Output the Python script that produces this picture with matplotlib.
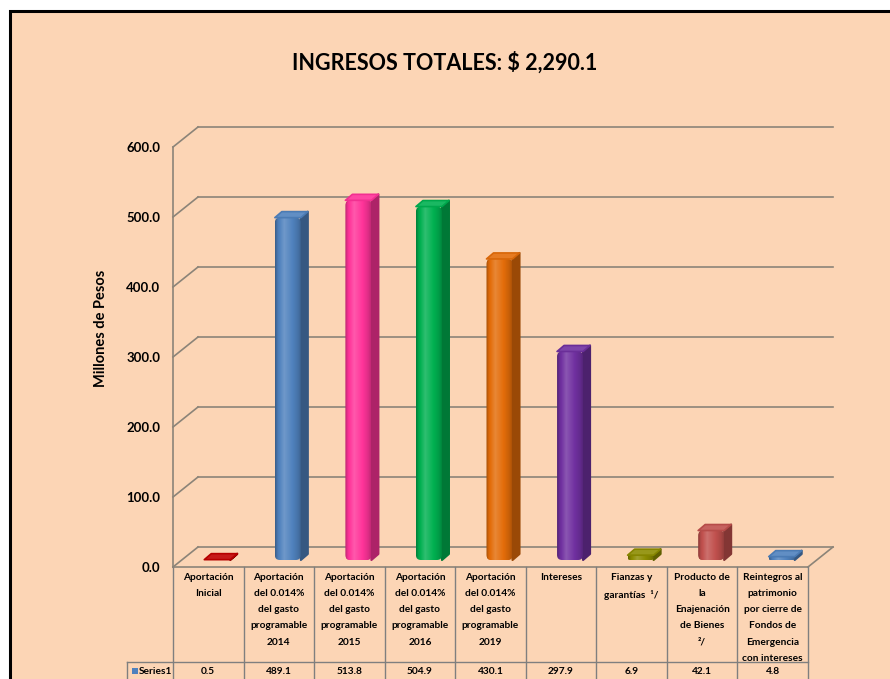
import matplotlib
matplotlib.use("Agg")
import matplotlib.pyplot as plt
import matplotlib.colors as mcolors
from matplotlib.patches import Rectangle, Polygon, FancyBboxPatch
import numpy as np

# ---------------- data ----------------
categories = [
    "Aportación\nInicial",
    "Aportación\ndel 0.014%\ndel gasto\nprogramable\n2014",
    "Aportación\ndel 0.014%\ndel gasto\nprogramable\n2015",
    "Aportación\ndel 0.014%\ndel gasto\nprogramable\n2016",
    "Aportación\ndel 0.014%\ndel gasto\nprogramable\n2019",
    "Intereses",
    "Fianzas y\ngarantías  ¹/",
    "Producto de\nla\nEnajenación\nde Bienes\n²/",
    "Reintegros al\npatrimonio\npor cierre de\nFondos de\nEmergencia\ncon intereses",
]
values = [0.5, 489.1, 513.8, 504.9, 430.1, 297.9, 6.9, 42.1, 4.8]
value_labels = ["0.5", "489.1", "513.8", "504.9", "430.1", "297.9", "6.9", "42.1", "4.8"]
bar_colors = ["#C00000", "#4F81BD", "#FF3399", "#00B050", "#E36C09",
              "#7030A0", "#8C8C00", "#C0504D", "#4F81BD"]
series_name = "Series1"
title = "INGRESOS TOTALES: $ 2,290.1"
ylabel = "Millones de Pesos"
yticks = [0, 100, 200, 300, 400, 500, 600]

# ---------------- style ----------------
BG = "#FCD5B5"
GRID = "#8C8478"
FONT = "Lato"
W, H = 890, 679
fig = plt.figure(figsize=(W / 100, H / 100), dpi=100)
fig.patch.set_facecolor("white")

# frame (peach panel with black border)
frame = Rectangle((10 / W, -0.05), 1.0, 1 - 11 / H + 0.05,
                  transform=fig.transFigure, facecolor=BG,
                  edgecolor="black", linewidth=2.2, zorder=-5)
fig.patches.append(frame)

# axes = front plane of the 3D plot
x0, x1, yb, yt = 173, 808, 567, 147
ax = fig.add_axes([x0 / W, 1 - yb / H, (x1 - x0) / W, (yb - yt) / H])
ax.set_zorder(1)
ax.set_facecolor("none")
n = len(values)
ax.set_xlim(0, n)
ax.set_ylim(0, 600)
for s in ["top", "right", "bottom"]:
    ax.spines[s].set_visible(False)
ax.spines["left"].set_color(GRID)
ax.spines["left"].set_linewidth(1.2)
ax.set_xticks([])
ax.set_yticks(yticks)
ax.set_yticklabels([f"{v:.1f}" for v in yticks], fontfamily=FONT,
                   fontweight="bold", fontsize=9.5)
ax.tick_params(axis="y", length=0, pad=9)

# pixel -> data conversion
px_x = n / (x1 - x0)
px_y = 600 / (yb - yt)
DX, DY = 25 * px_x, 20 * px_y  # depth of the 3D box

# back wall gridlines and left diagonals
for v in yticks:
    ax.plot([DX, n + DX], [v + DY, v + DY], color=GRID, lw=1.2, clip_on=False, zorder=1)
    ax.plot([0, DX], [v, v + DY], color=GRID, lw=1.2, clip_on=False, zorder=1)
# floor right edge and front edge
ax.plot([n, n + DX], [0, DY], color=GRID, lw=1.2, clip_on=False, zorder=1)
ax.plot([0, n], [0, 0], color=GRID, lw=1.2, clip_on=False, zorder=1)


def shade(c, k):
    r = np.array(mcolors.to_rgb(c))
    if k >= 1:
        return tuple(np.clip(r + (1 - r) * (k - 1), 0, 1))
    return tuple(r * k)


# bars (bevelled boxes) at mid depth
FW = 26 * px_x          # front face width
SX, SY = 7 * px_x, 6 * px_y  # bar depth
NS = 26
prof = np.interp(np.linspace(0, 1, NS), [0, 0.1, 0.35, 0.65, 0.9, 1.0],
                 [0.75, 0.95, 1.18, 1.02, 0.88, 0.78])
RND = 5 * px_x
asp = px_y / px_x
for i, (v, c) in enumerate(zip(values, bar_colors)):
    cx = i + 0.5 + DX / 2
    L = cx - (FW + SX) / 2
    B = DY / 2 - SY / 2
    T = B + v
    # side face
    ax.add_patch(Polygon([[L + FW, B], [L + FW + SX, B + SY], [L + FW + SX, T + SY], [L + FW, T]],
                         closed=True, facecolor=shade(c, 0.68), edgecolor=shade(c, 0.68),
                         lw=1.5, joinstyle="round", clip_on=False, zorder=3))
    # front face with gradient, rounded
    if v > 1:
        r = min(RND, v / asp / 2.2)
        clip = FancyBboxPatch((L, B), FW, v, boxstyle=f"round,pad=0,rounding_size={r}",
                              mutation_aspect=asp, transform=ax.transData)
        sw = FW / NS
        for j in range(NS):
            p = Rectangle((L + j * sw, B), sw * (1.4 if j < NS - 1 else 1.0), v,
                          facecolor=shade(c, prof[j]), edgecolor="none", zorder=3)
            ax.add_patch(p)
            p.set_clip_path(clip)
    # top face
    ax.add_patch(Polygon([[L, T], [L + FW, T], [L + FW + SX, T + SY], [L + SX, T + SY]],
                         closed=True, facecolor=shade(c, 1.1), edgecolor=shade(c, 0.95),
                         lw=1.2, joinstyle="round", clip_on=False, zorder=4))

# ---------------- data table ----------------
hdr_bot = -(662 - 567) * px_y
row_bot = -(690 - 567) * px_y
leg_left = -(173 - 127) * px_x
TC = "#7F7F7F"
kw = dict(color=TC, lw=1.0, clip_on=False, zorder=2)
for k in range(n + 1):
    ax.plot([k, k], [0, row_bot], **kw)
ax.plot([leg_left, n], [hdr_bot, hdr_bot], **kw)
ax.plot([leg_left, leg_left], [hdr_bot, row_bot], **kw)

TFS = 7.3
for i, lab in enumerate(categories):
    ax.text(i + 0.5, -6 * px_y, lab, ha="center", va="top", fontsize=TFS,
            fontfamily=FONT, fontweight="bold", linespacing=2.02, clip_on=False)
    ax.text(i + 0.5, -(671 - 567) * px_y, value_labels[i], ha="center", va="center",
            fontsize=TFS, fontfamily=FONT, fontweight="bold", clip_on=False)

ax.add_patch(Rectangle((leg_left + 5 * px_x, -(674 - 567) * px_y), 6 * px_x, 6 * px_y,
                       facecolor="#4F81BD", edgecolor="none", clip_on=False))
ax.text(leg_left + 12 * px_x, -(671 - 567) * px_y, series_name, ha="left", va="center",
        fontsize=TFS, fontfamily=FONT, fontweight="bold", clip_on=False)

# labels
ax.set_ylabel(ylabel, fontfamily=FONT, fontweight="bold", fontsize=10.5)
ax.yaxis.set_label_coords(-(173 - 108) / (x1 - x0), (567 - 328) / (yb - yt))
fig.text(445 / W, 1 - 63 / H, title, ha="center", va="center", fontsize=15.5,
         fontfamily=FONT, fontweight="bold")

fig.savefig("out.png", dpi=100, facecolor=fig.get_facecolor())
